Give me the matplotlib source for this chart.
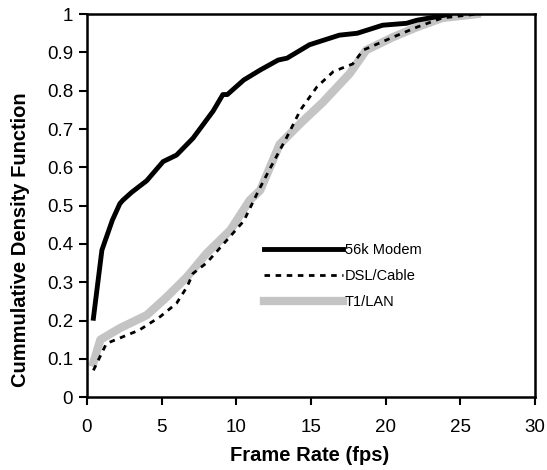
import matplotlib
matplotlib.use('Agg')
import matplotlib.pyplot as plt

plt.rcParams['font.family'] = ['Liberation Sans', 'DejaVu Sans']

# 56k Modem
modem_x = [0.43, 1.0, 1.7, 2.2, 2.4, 3.0, 4.0, 5.1, 6.0, 7.1, 8.45, 9.1, 9.4, 10.5,
           11.6, 12.8, 13.4, 14.9, 16.9, 18.1, 19.8, 21.4, 22.1, 23.4, 24.3]
modem_y = [0.206, 0.384, 0.462, 0.505, 0.514, 0.535, 0.565, 0.615, 0.632, 0.676, 0.747, 0.79, 0.79, 0.828,
           0.854, 0.88, 0.885, 0.92, 0.945, 0.95, 0.971, 0.976, 0.984, 0.993, 1.0]

# DSL/Cable
dsl_x = [0.43, 1.3, 3.5, 4.9, 6.0, 6.7, 7.1, 8.0, 9.6, 10.5, 11.0, 11.5, 12.3, 13.4,
         14.3, 15.4, 16.5, 17.8, 18.5, 20.5, 22.1, 23.8, 26.1]
dsl_y = [0.07, 0.14, 0.175, 0.21, 0.245, 0.288, 0.323, 0.35, 0.42, 0.46, 0.5, 0.54, 0.60, 0.68,
         0.75, 0.81, 0.85, 0.87, 0.906, 0.94, 0.966, 0.99, 1.0]

# T1/LAN
lan_x = [0.43, 0.9, 2.2, 4.0, 5.3, 6.7, 8.0, 9.6, 10.9, 11.6, 12.9, 14.3, 15.8, 17.6,
         18.7, 20.5, 22.1, 23.8, 26.1]
lan_y = [0.09, 0.15, 0.18, 0.214, 0.26, 0.314, 0.375, 0.436, 0.514, 0.54, 0.66, 0.715, 0.77, 0.845,
         0.906, 0.94, 0.966, 0.99, 1.0]

y_ticks = [0, 0.1, 0.2, 0.3, 0.4, 0.5, 0.6, 0.7, 0.8, 0.9, 1]
y_labels = ['0', '0.1', '0.2', '0.3', '0.4', '0.5', '0.6', '0.7', '0.8', '0.9', '1']
x_ticks = [0, 5, 10, 15, 20, 25, 30]

fig = plt.figure(figsize=(5.47, 4.70), dpi=100)
ax = fig.add_axes([0.159, 0.155, 0.819, 0.815])

ax.plot(lan_x, lan_y, color='#c4c4c4', linewidth=6, label='T1/LAN', zorder=2)
ax.plot(dsl_x, dsl_y, color='black', linewidth=2, linestyle=(0, (2, 2)), label='DSL/Cable', zorder=3)
ax.plot(modem_x, modem_y, color='black', linewidth=3.5, label='56k Modem', zorder=4)

ax.set_xlim(0, 30)
ax.set_ylim(0, 1)
ax.set_xticks(x_ticks)
ax.set_yticks(y_ticks)
ax.set_yticklabels(y_labels)
ax.tick_params(direction='out', length=6, width=1.5, labelsize=13.5)
ax.tick_params(axis='x', pad=10)
ax.tick_params(axis='y', pad=4)
for sp in ax.spines.values():
    sp.set_linewidth(1.8)

ax.set_xlabel('Frame Rate (fps)', fontsize=14.5, fontweight='bold')
ax.set_ylabel('Cummulative Density Function', fontsize=14.5, fontweight='bold')
ax.xaxis.set_label_coords(0.497, -0.128)
ax.yaxis.set_label_coords(-0.127, 0.41)

handles, labels = ax.get_legend_handles_labels()
ax.legend(handles[::-1], labels[::-1], loc='center left', bbox_to_anchor=(0.395, 0.316),
          frameon=False, fontsize=10.5, handlelength=5.4, handletextpad=0.15,
          labelspacing=0.8, borderpad=0, borderaxespad=0)

fig.savefig('out.png', dpi=100)
